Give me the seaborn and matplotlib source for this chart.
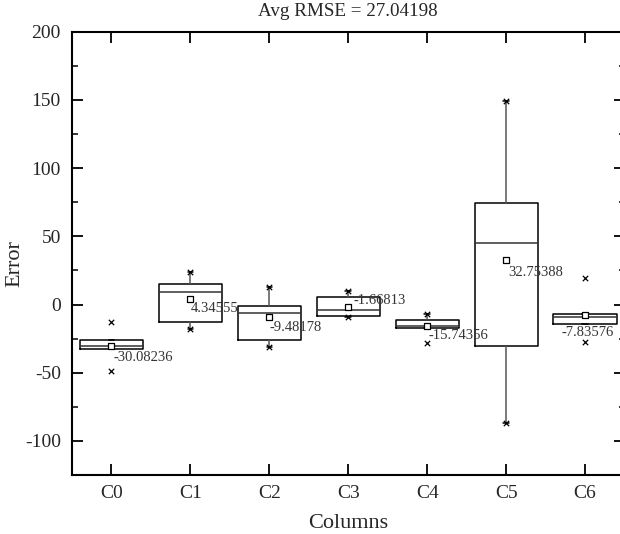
import matplotlib
matplotlib.use("Agg")
import matplotlib.pyplot as plt
import seaborn as sns
from matplotlib.ticker import MultipleLocator

# values
columns = ["C0", "C1", "C2", "C3", "C4", "C5", "C6"]
q1 = [-32.7, -13.1, -26.1, -8.7, -17.1, -30.5, -14.1]
median = [-30.2, 8.9, -6.1, -4.3, -15.8, 45.0, -9.0]
q3 = [-26.1, 14.8, -0.9, 5.7, -11.2, 74.2, -7.2]
whisker_low = [-32.7, -17.8, -31.0, -9.2, -17.1, -86.7, -14.1]
whisker_high = [-26.1, 24.0, 13.0, 10.1, -7.2, 149.2, -7.2]
col_min = [-48.6, -17.8, -31.0, -9.2, -28.1, -86.7, -27.8]
col_max = [-12.7, 24.0, 13.0, 10.1, -7.2, 149.2, 19.4]
means = [-30.08236, 4.34555, -9.48178, -1.66813, -15.74356, 32.75388, -7.83576]
avg_rmse = 27.04198

# label offsets (points) for the mean annotations
label_offsets = [(1.5, -8.5), (0, -7), (0, -7), (3.5, 4.5), (1, -7), (1.2, -9), (-17, -12.5)]

sns.set_theme(style="ticks")
plt.rcParams["font.family"] = ["Liberation Serif", "DejaVu Serif"]
plt.rcParams["axes.unicode_minus"] = False

fig = plt.figure(figsize=(6.2, 5.34), dpi=100)
ax = fig.add_axes([0.1161, 0.1105, 0.8912, 0.8301])

stats = []
for i, name in enumerate(columns):
    stats.append({
        "label": name, "q1": q1[i], "med": median[i], "q3": q3[i],
        "whislo": whisker_low[i], "whishi": whisker_high[i],
        "mean": means[i], "fliers": [],
    })

ax.bxp(stats, positions=range(len(columns)), widths=0.8, capwidths=0.07,
       showfliers=False, showmeans=False, patch_artist=False,
       boxprops=dict(color="black", linewidth=1.1),
       medianprops=dict(color="#333333", linewidth=1.1),
       whiskerprops=dict(color="#555555", linewidth=1.1),
       capprops=dict(color="black", linewidth=1.1))

# min / max markers
sns.scatterplot(x=list(range(len(columns))) * 2, y=col_min + col_max, marker="x",
                color="black", s=15, linewidth=0.9, ax=ax, zorder=4)
# mean squares
sns.scatterplot(x=list(range(len(columns))), y=means, marker="s", s=16,
                facecolor="white", edgecolor="black", linewidth=0.9, ax=ax, zorder=5)

for i, m in enumerate(means):
    ax.annotate(f"{m:.5f}", (i, m), xytext=label_offsets[i], textcoords="offset points",
                ha="left", va="center", fontsize=10.5, color="#333333")

ax.set_xlim(-0.5, len(columns) - 0.5)
ax.set_ylim(-125, 200)
ax.set_xticks(range(len(columns)))
ax.set_xticklabels(columns)
ax.yaxis.set_major_locator(MultipleLocator(50))
ax.yaxis.set_minor_locator(MultipleLocator(25))

ax.tick_params(axis="both", which="major", direction="in", length=8, width=1.3,
               labelsize=14, color="black", top=True, right=True)
ax.tick_params(axis="y", which="minor", direction="in", length=4, width=1.3, right=True)
ax.tick_params(axis="y", pad=8)
ax.tick_params(axis="x", pad=7)
for sp in ax.spines.values():
    sp.set_linewidth(1.5)
    sp.set_color("black")

ax.set_xlabel("Columns", fontsize=16, labelpad=9)
ax.set_ylabel("Error", fontsize=16)
ax.yaxis.set_label_coords(-0.087, 0.4775)
ax.set_title(f"Avg RMSE = {avg_rmse:.5f}", fontsize=13.7, pad=11)

fig.savefig("out.png", dpi=100)
